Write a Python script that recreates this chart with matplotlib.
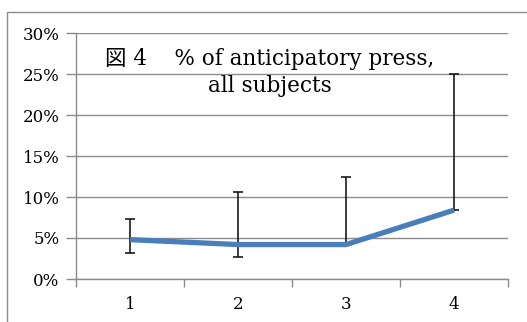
import numpy as np
import matplotlib.pyplot as plt
from matplotlib.patches import Rectangle
from matplotlib.ticker import FixedLocator, FuncFormatter

# anticipatory press rate (%) per session, all subjects
sessions = ['1', '2', '3', '4']
mean_pct = [4.8, 4.2, 4.2, 8.4]
upper_pct = [7.3, 10.6, 12.5, 25.0]
lower_pct = [3.2, 2.7, 4.2, 8.4]

plt.rcParams['font.family'] = ['DejaVu Serif', 'Noto Sans CJK JP']

fig = plt.figure(figsize=(5.27, 3.22), dpi=100)
# outer chart frame
fig.patches.append(Rectangle((7 / 527, -0.05), 1.2, 1 - 12 / 322 + 0.05,
                             transform=fig.transFigure, fill=False,
                             edgecolor='#8c8c8c', linewidth=1.0))

ax = fig.add_axes([76 / 527, 1 - 279 / 322, 432 / 527, 246 / 322])

x = np.arange(len(sessions)) + 0.5
mean = np.array(mean_pct)
yerr = [mean - np.array(lower_pct), np.array(upper_pct) - mean]

ax.errorbar(x, mean, yerr=yerr, fmt='none', ecolor='#1a1a1a',
            elinewidth=1.2, capsize=3.5, capthick=1.2, zorder=2)
ax.plot(x, mean, color='#4a7ebb', linewidth=3.8, solid_capstyle='butt', zorder=3)

ax.set_xlim(0, 4)
ax.set_ylim(0, 30)
ax.set_yticks(np.arange(0, 31, 5))
ax.yaxis.set_major_formatter(FuncFormatter(lambda v, p: f'{v:.0f}%'))
ax.grid(axis='y', color='#8c8c8c', linewidth=1.0)
ax.set_axisbelow(True)

ax.xaxis.set_major_locator(FixedLocator([0, 1, 2, 3, 4]))
ax.xaxis.set_major_formatter(FuncFormatter(lambda v, p: ''))
ax.xaxis.set_minor_locator(FixedLocator(x))
ax.set_xticklabels(sessions, minor=True)
ax.tick_params(axis='x', which='major', length=6, color='#8c8c8c', width=1.0)
ax.tick_params(axis='x', which='minor', length=0, pad=12, labelsize=12)
ax.tick_params(axis='y', length=7, color='#8c8c8c', width=1.0, pad=5, labelsize=12)

for side in ['top', 'right']:
    ax.spines[side].set_visible(False)
for side in ['left', 'bottom']:
    ax.spines[side].set_color('#8c8c8c')
    ax.spines[side].set_linewidth(1.0)

ax.text(0.449, 0.838, '図 4    % of anticipatory press,\nall subjects',
        transform=ax.transAxes, ha='center', va='center', fontsize=15.5,
        linespacing=1.3)

fig.savefig('out.png', dpi=100)
